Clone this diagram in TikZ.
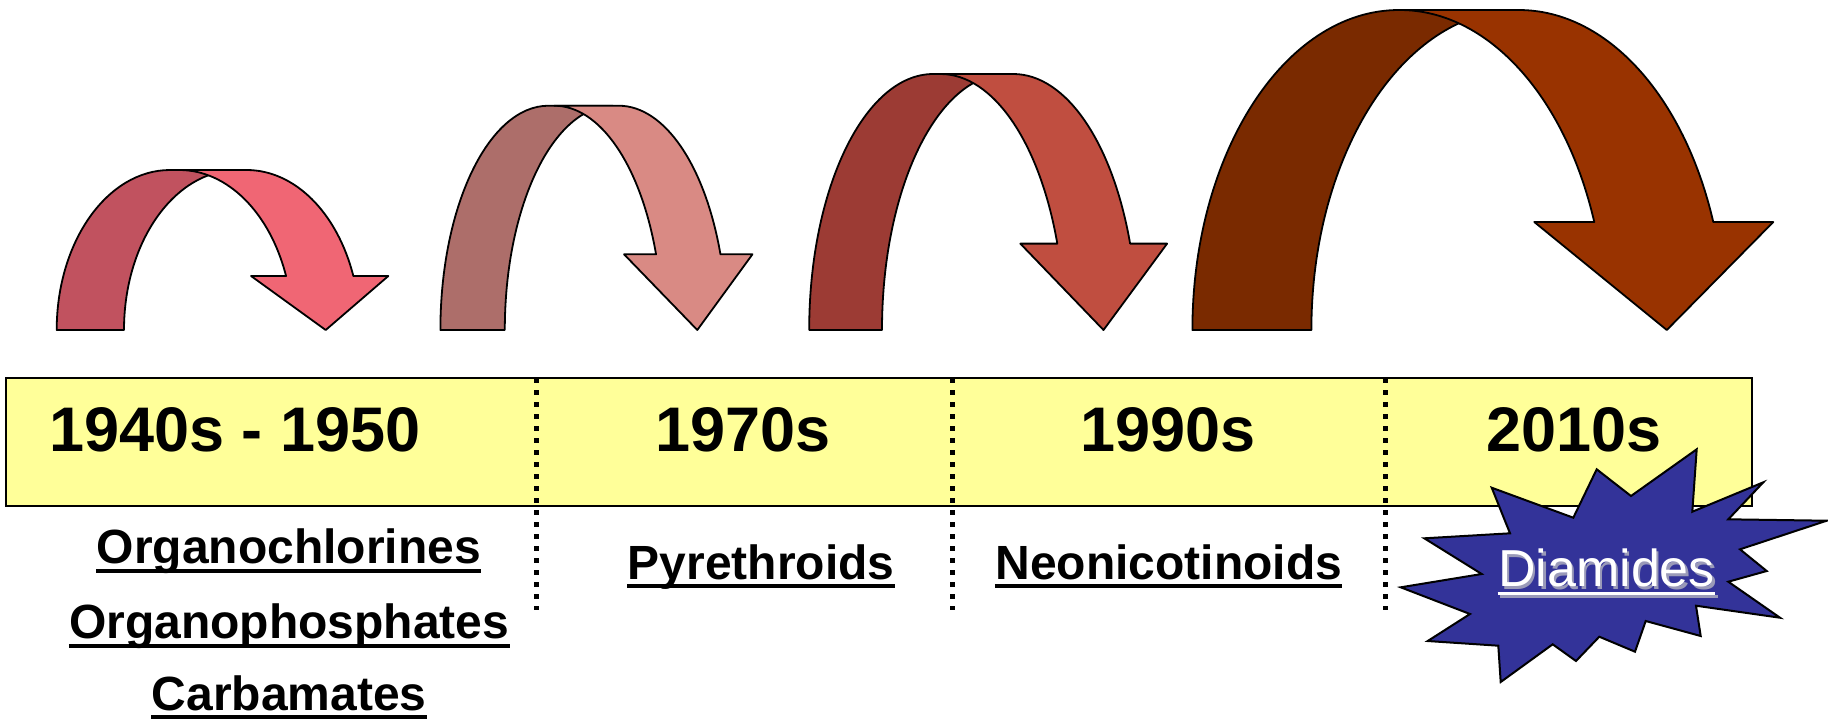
\documentclass[tikz,border=0pt]{standalone}
\usepackage{fontspec}
\setmainfont{Liberation Sans}

\definecolor{barfill}{HTML}{FFFF99}
\definecolor{starfill}{HTML}{333399}
\definecolor{arrowAback}{HTML}{C1525F}
\definecolor{arrowAfront}{HTML}{F06674}
\definecolor{arrowBback}{HTML}{AD6E6A}
\definecolor{arrowBfront}{HTML}{D98A84}
\definecolor{arrowCback}{HTML}{9C3B34}
\definecolor{arrowCfront}{HTML}{C04E40}
\definecolor{arrowDback}{HTML}{7A2A00}
\definecolor{arrowDfront}{HTML}{993300}

\begin{document}
\begin{tikzpicture}[x=0.5pt, y=-0.5pt,
    year/.style={font=\fontsize{31.5}{36}\selectfont\bfseries, anchor=base, inner sep=0pt},
    group/.style={font=\fontsize{24}{28}\selectfont\bfseries, anchor=base, inner sep=0pt},
    ribbon/.style={draw=black, line width=0.9pt, line join=round},
    divider/.style={line width=2.5pt, dash pattern=on 2.5pt off 3.5pt},
    underline/.style={line width=2pt}]
    \useasboundingbox (0,0) rectangle (1828,720);

    % curved arrows: base x / band width / x radius / front top x / top y / head overhang / tip x / colours
    \foreach \xl/\w/\rx/\xo/\yt/\hw/\tip/\back/\front in {
        56.7/67.3/113.3/246.7/170/35/325.7/arrowAback/arrowAfront,
        440.4/64.4/108.1/618.7/105.7/32/697.3/arrowBback/arrowBfront,
        809.2/72.8/124.1/1013.3/74/37/1103.5/arrowCback/arrowCfront,
        1192.4/119/206.6/1518.8/10/60/1666.8/arrowDback/arrowDfront}{
        \pgfmathsetmacro\ry{330-\yt}
        \pgfmathsetmacro\ys{330-0.3375*\ry}
        \draw[ribbon, fill=\back] (\xl,330) .. controls (\xl,{330-0.5523*\ry}) and ({\xl+0.4477*\rx},\yt) .. ({\xl+\rx},\yt)
            -- ({\xl+\w+\rx},\yt) .. controls ({\xl+\w+0.4477*\rx},\yt) and ({\xl+\w},{330-0.5523*\ry}) .. ({\xl+\w},330) -- cycle;
        \draw[ribbon, fill=\front] ({\xo-\w},\yt) -- (\xo,\yt)
            .. controls ({\xo+0.4222*\rx},\yt) and ({\xo+0.7988*\rx},{330-0.7349*\ry}) .. ({\xo+0.9413*\rx},\ys)
            -- ({\xo+0.9413*\rx+\hw},\ys) -- (\tip,330) -- ({\xo-\w+0.9413*\rx-\hw},\ys) -- ({\xo-\w+0.9413*\rx},\ys)
            .. controls ({\xo-\w+0.7988*\rx},{330-0.7349*\ry}) and ({\xo-\w+0.4222*\rx},\yt) .. ({\xo-\w},\yt) -- cycle;
    }

    % time bar
    \draw[fill=barfill, line width=1pt] (6,378) rectangle (1752,506);
    \foreach \x in {536.7,952,1385}
        \draw[divider] (\x,378) -- (\x,610);

    \node[year] (y1940) at (235,451) {1940s - 1950};
    \node[year] (y1970) at (742.6,451) {1970s};
    \node[year] (y1990) at (1168,451) {1990s};
    \node[year] (y2010) at (1574,451) {2010s};

    \node[group] (ochl) at (288.8,563.3) {Organochlorines};
    \node[group] (ophos) at (289.2,638.3) {Organophosphates};
    \node[group] (carb) at (289.2,710) {Carbamates};
    \node[group] (pyr) at (761,579) {Pyrethroids};
    \node[group] (neo) at (1168.7,579) {Neonicotinoids};
    \foreach \n in {ochl,ophos,carb,pyr,neo}
        \draw[underline] ([yshift=-3.6pt]\n.base west) -- ([yshift=-3.6pt]\n.base east);

    % burst
    \draw[fill=starfill, line width=1pt] (1696.7,449.3) -- (1692.3,511.7) -- (1763.3,482.3) -- (1728.3,519.3)
        -- (1826.7,520.7) -- (1740,549.3) -- (1766.7,571) -- (1728.3,581.7) -- (1780,617.7) -- (1696,605.7)
        -- (1700.7,636) -- (1645.7,621) -- (1635,651.7) -- (1599.3,636.7) -- (1576,661) -- (1552.7,644.3)
        -- (1500.7,682) -- (1498.3,645.7) -- (1427.7,641) -- (1470,614) -- (1400.7,587.3) -- (1481.7,574)
        -- (1424.3,538.3) -- (1510,533.3) -- (1491.7,487.7) -- (1573.3,517.7) -- (1596.7,469.3) -- (1631,496) -- cycle;
    \node[anchor=base, inner sep=0pt, text=gray!45, opacity=0.7, font=\fontsize{26}{30}\selectfont] (diamglow) at (1609,589) {Diamides};
    \draw[underline, line width=1.5pt, gray!45, opacity=0.7] ([yshift=-3.6pt]diamglow.base west) -- ([yshift=-3.6pt]diamglow.base east);
    \node[anchor=base, inner sep=0pt, text=white, font=\fontsize{26}{30}\selectfont] (diam) at (1606.5,586.7) {Diamides};
    \draw[underline, line width=1.5pt, white] ([yshift=-3.6pt]diam.base west) -- ([yshift=-3.6pt]diam.base east);
\end{tikzpicture}
\end{document}
